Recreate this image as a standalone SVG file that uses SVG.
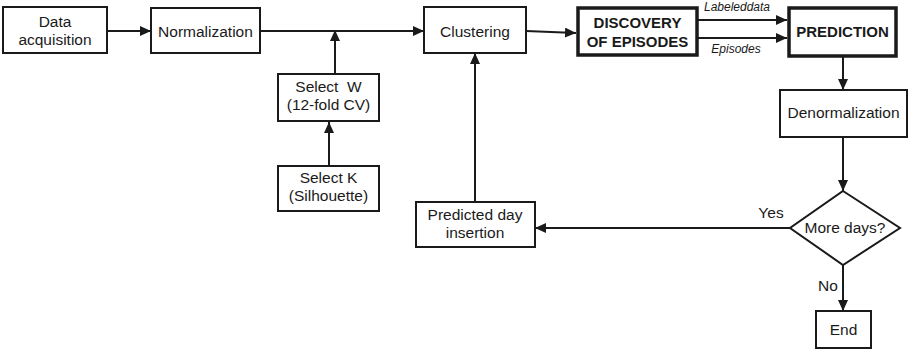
<svg xmlns="http://www.w3.org/2000/svg" width="909" height="351" viewBox="0 0 909 351">
<defs>
<style>
.box{fill:#fff;stroke:#1a1a1a;stroke-width:2}
.thick{fill:#fff;stroke:#1a1a1a;stroke-width:3.5}
.t{font-family:"Liberation Sans",Arial,sans-serif;font-size:15.5px;fill:#1a1a1a;text-anchor:middle}
.b{font-weight:bold;font-size:15px}
.i{font-style:italic;font-size:12px}
.c{fill:none;stroke:#1a1a1a;stroke-width:2;marker-end:url(#ah)}
</style>
<marker id="ah" markerUnits="userSpaceOnUse" markerWidth="11" markerHeight="10" refX="11" refY="5" orient="auto">
<path d="M0,0 L11,5 L0,10 z" fill="#1a1a1a"/>
</marker>
</defs>
<rect width="909" height="351" fill="#fff"/>
<g id="connectors">
<line class="c" x1="107" y1="31" x2="151" y2="31"/>
<line class="c" x1="260" y1="31" x2="424" y2="31"/>
<line class="c" x1="335" y1="74" x2="335" y2="30"/>
<line class="c" x1="329" y1="166" x2="329" y2="122"/>
<line class="c" x1="475" y1="202" x2="475" y2="53"/>
<line class="c" x1="526" y1="31" x2="576" y2="33"/>
<line class="c" x1="697" y1="20" x2="787" y2="20"/>
<line class="c" x1="697" y1="38" x2="787" y2="38"/>
<line class="c" x1="843" y1="57" x2="843" y2="90"/>
<line class="c" x1="843" y1="137" x2="843" y2="191"/>
<line class="c" x1="790" y1="228" x2="535" y2="228"/>
<line class="c" x1="843" y1="265" x2="843" y2="311"/>
<text class="t i" x="737" y="11">Labeleddata</text>
<text class="t i" x="736" y="53">Episodes</text>
<text class="t" x="771" y="218">Yes</text>
<text class="t" x="828" y="291">No</text>
</g>
<g id="data-acquisition">
<rect class="box" x="3" y="7" width="104" height="46"/>
<text class="t" x="55" y="27">Data</text>
<text class="t" x="55" y="45">acquisition</text>
</g>
<g id="normalization">
<rect class="box" x="151" y="8" width="109" height="45"/>
<text class="t" x="205.5" y="37">Normalization</text>
</g>
<g id="select-w">
<rect class="box" x="278" y="74" width="101" height="47"/>
<text class="t" x="328.5" y="92" xml:space="preserve">Select  W</text>
<text class="t" x="328.5" y="110">(12-fold CV)</text>
</g>
<g id="select-k">
<rect class="box" x="278" y="166" width="101" height="45"/>
<text class="t" x="328.5" y="183">Select K</text>
<text class="t" x="328.5" y="201">(Silhouette)</text>
</g>
<g id="clustering">
<rect class="box" x="424" y="7" width="102" height="46"/>
<text class="t" x="475" y="37">Clustering</text>
</g>
<g id="discovery">
<rect class="thick" x="578" y="8" width="119" height="47"/>
<text class="t b" x="637.5" y="28">DISCOVERY</text>
<text class="t b" x="637.5" y="47">OF EPISODES</text>
</g>
<g id="prediction">
<rect class="thick" x="789" y="8" width="107" height="48"/>
<text class="t b" x="842.5" y="37">PREDICTION</text>
</g>
<g id="denormalization">
<rect class="box" x="780" y="90" width="127" height="47"/>
<text class="t" x="843.5" y="118">Denormalization</text>
</g>
<g id="more-days">
<polygon class="box" points="843,191 900,228 843,265 790,228"/>
<text class="t" x="845" y="233">More days?</text>
</g>
<g id="predicted-day">
<rect class="box" x="416" y="202" width="119" height="45"/>
<text class="t" x="475" y="220">Predicted day</text>
<text class="t" x="475" y="238">insertion</text>
</g>
<g id="end">
<rect class="box" x="816" y="311" width="55" height="37"/>
<text class="t" x="843.5" y="335">End</text>
</g>
</svg>
